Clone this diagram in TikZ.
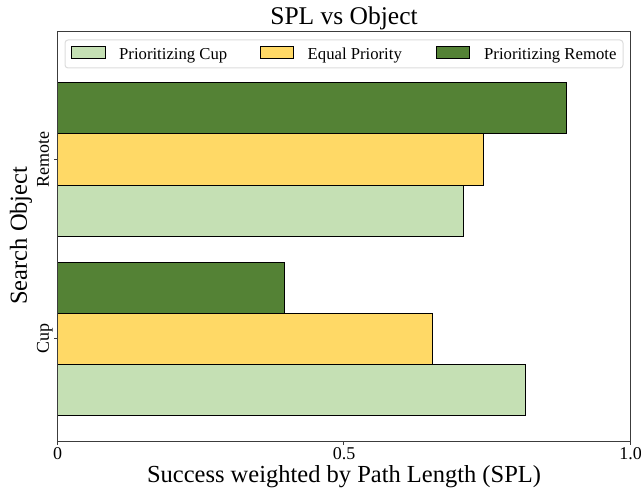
\documentclass[tikz,border=0pt]{standalone}
\usepackage{fontspec}
\setmainfont{Liberation Serif}
\usetikzlibrary{positioning}
\definecolor{cupgreen}{RGB}{197,224,180}
\definecolor{equalyellow}{RGB}{255,217,102}
\definecolor{remotegreen}{RGB}{84,130,53}
\definecolor{framegray}{RGB}{60,60,60}
\definecolor{legendgray}{RGB}{220,220,220}

\begin{document}
\begin{tikzpicture}[x=1pt, y=1pt,
    bar/.style={draw=black, line width=0.9pt},
    swatch/.style={draw=black, line width=0.9pt},
    ticklabel/.style={inner sep=0pt, font=\fontsize{18}{20}\selectfont},
    axislabel/.style={inner sep=0pt, font=\fontsize{24.5}{27}\selectfont},
    legendtext/.style={inner sep=0pt, anchor=base west, font=\fontsize{16.7}{19}\selectfont}]
    \useasboundingbox (0,0) rectangle (641,489);
    % bars, data units: x = SPL, y = object (Cup 0, Remote 1)
    \begin{scope}[shift={(57.5,150)}, x=572.5pt, y=179.5pt]
        \foreach \obj/\cupval/\equalval/\remoteval in {0/0.818/0.655/0.396, 1/0.7095/0.744/0.889} {
            \draw[bar, fill=cupgreen] (0,{\obj-0.4275}) rectangle (\cupval,{\obj-0.1425});
            \draw[bar, fill=equalyellow] (0,{\obj-0.1425}) rectangle (\equalval,{\obj+0.1425});
            \draw[bar, fill=remotegreen] (0,{\obj+0.1425}) rectangle (\remoteval,{\obj+0.4275});
        }
        % ticks
        \foreach \tx in {0,0.5,1} {
            \draw[framegray, line width=1pt] (\tx,-0.573) -- ++(0,-3.5pt);
        }
        \foreach \ty in {0,1} {
            \draw[framegray, line width=1pt] (0,\ty) -- ++(-3.5pt,0);
        }
    \end{scope}
    % axes frame
    \draw[framegray, line width=1.1pt] (57.5,47.5) rectangle (630.5,457.5);
    % tick labels
    \node[ticklabel, anchor=base] (xtick0) at (57.5,29.7) {0};
    \node[ticklabel, anchor=base] (xtick5) at (344,29.7) {0.5};
    \node[ticklabel, anchor=base] (xtick10) at (630.5,29.7) {1.0};
    \node[ticklabel, anchor=base, rotate=90] (ytickremote) at (48.8,329) {Remote};
    \node[ticklabel, anchor=base, rotate=90] (ytickcup) at (48.8,150) {Cup};
    % axis labels and title
    \node[axislabel, anchor=base] (xlabel) at (344,6) {Success weighted by Path Length (SPL)};
    \node[axislabel, anchor=base, rotate=90] (ylabel) at (27,253.3) {Search Object};
    \node[inner sep=0pt, anchor=base, font=\fontsize{25.5}{28}\selectfont] (title) at (344,464) {SPL vs Object};
    % legend
    \draw[legendgray, fill=white, line width=1pt, rounded corners=3pt] (65,421) rectangle (623,449);
    \draw[swatch, fill=cupgreen] (71.7,430.7) rectangle (105,442.3);
    \draw[swatch, fill=equalyellow] (260.2,430.7) rectangle (293.5,442.3);
    \draw[swatch, fill=remotegreen] (436.5,430.7) rectangle (469.8,442.3);
    \node[legendtext] (legcup) at (119,429.7) {Prioritizing Cup};
    \node[legendtext] (legequal) at (307.5,429.7) {Equal Priority};
    \node[legendtext] (legremote) at (484,429.7) {Prioritizing Remote};
\end{tikzpicture}
\end{document}
